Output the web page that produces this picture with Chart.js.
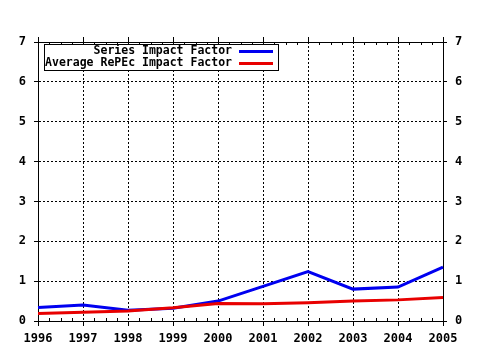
<!DOCTYPE html>
<html>
<head>
<meta charset="utf-8">
<script src="https://cdn.jsdelivr.net/npm/chart.js@4/dist/chart.umd.min.js"></script>
<style>
  html, body { margin: 0; padding: 0; background: #fff; }
  canvas { display: block; }
</style>
</head>
<body>
<canvas id="chart" width="480" height="350"></canvas>
<script>
// Years on the horizontal axis
const years = ['1996', '1997', '1998', '1999', '2000', '2001', '2002', '2003', '2004', '2005'];
// Impact factor of this series per year
const seriesImpact = [0.34, 0.40, 0.27, 0.32, 0.50, 0.87, 1.24, 0.80, 0.85, 1.35];
// Average impact factor over all RePEc series per year
const repecAverage = [0.19, 0.22, 0.25, 0.33, 0.44, 0.43, 0.46, 0.50, 0.53, 0.59];
// Value axis range and step
const yMin = 0;
const yMax = 7;
const yStep = 1;
// Legend entries
const seriesNames = ['Series Impact Factor', 'Average RePEc Impact Factor'];

const BLUE = '#0000f0';
const RED = '#e80000';
const MONO = '"DejaVu Sans Mono", "Liberation Mono", monospace';

// Minor ticks on the top and bottom frame, plus the boxed legend
const framePlugin = {
  id: 'framePlugin',
  afterDatasetsDraw(chart) {
    const { ctx, chartArea: a, scales: { x } } = chart;
    ctx.save();
    ctx.strokeStyle = '#000';
    ctx.lineWidth = 1;
    ctx.beginPath();
    for (let i = 0; i < years.length - 1; i++) {
      for (let k = 1; k < 4; k++) {
        const px = Math.round(x.getPixelForValue(i + k / 4)) + 0.5;
        ctx.moveTo(px, a.bottom);
        ctx.lineTo(px, a.bottom - 3);
        ctx.moveTo(px, a.top);
        ctx.lineTo(px, a.top + 3);
      }
    }
    ctx.stroke();

    // Legend box
    const bx = 44.5, by = 44.5, bw = 234, bh = 26;
    ctx.fillStyle = '#fff';
    ctx.fillRect(bx, by, bw, bh);
    ctx.strokeRect(bx, by, bw, bh);
    ctx.font = 'bold 11.5px ' + MONO;
    ctx.textAlign = 'right';
    ctx.textBaseline = 'middle';
    ctx.fillStyle = '#000';
    const colors = [BLUE, RED];
    const rows = [51.5, 63.5];
    chart.data.datasets.forEach((ds, i) => {
      ctx.fillText(ds.label, 232, rows[i]);
      ctx.strokeStyle = colors[i];
      ctx.lineWidth = 3;
      ctx.beginPath();
      ctx.moveTo(239, rows[i]);
      ctx.lineTo(273, rows[i]);
      ctx.stroke();
    });
    ctx.restore();
  }
};

const tickFont = { family: MONO, size: 12, weight: 'bold' };

new Chart(document.getElementById('chart'), {
  type: 'line',
  data: {
    labels: years,
    datasets: [
      {
        label: seriesNames[0],
        data: seriesImpact,
        borderColor: BLUE,
        borderWidth: 3,
        pointRadius: 0,
        tension: 0,
        order: 1
      },
      {
        label: seriesNames[1],
        data: repecAverage,
        borderColor: RED,
        borderWidth: 3,
        pointRadius: 0,
        tension: 0,
        order: 0
      }
    ]
  },
  options: {
    responsive: false,
    animation: false,
    devicePixelRatio: 1,
    layout: { padding: { top: 42, left: 0, right: 0, bottom: 0 } },
    plugins: {
      legend: { display: false },
      tooltip: { enabled: false }
    },
    scales: {
      x: {
        type: 'category',
        position: 'bottom',
        offset: false,
        grid: { color: '#000', lineWidth: 1, tickLength: 5, tickColor: '#000' },
        border: { color: '#000', width: 1, dash: [2, 2] },
        ticks: { color: '#000', font: tickFont, padding: 6, maxRotation: 0, autoSkip: false },
        afterFit(s) { s.height = 29; }
      },
      xTop: {
        type: 'category',
        position: 'top',
        offset: false,
        labels: years,
        grid: { drawOnChartArea: false, tickLength: 5, tickColor: '#000' },
        border: { color: '#000', width: 1 },
        ticks: { display: false },
        afterFit(s) { s.height = 0; }
      },
      y: {
        type: 'linear',
        position: 'left',
        min: yMin,
        max: yMax,
        grid: { color: '#000', lineWidth: 1, tickLength: 4, tickColor: '#000' },
        border: { color: '#000', width: 1, dash: [2, 2] },
        ticks: { stepSize: yStep, color: '#000', font: tickFont, padding: 8 },
        afterFit(s) { s.width = 38; }
      },
      yRight: {
        type: 'linear',
        position: 'right',
        min: yMin,
        max: yMax,
        grid: { drawOnChartArea: false, tickLength: 4, tickColor: '#000' },
        border: { color: '#000', width: 1 },
        ticks: { stepSize: yStep, color: '#000', font: tickFont, padding: 8 },
        afterFit(s) { s.width = 37; }
      }
    }
  },
  plugins: [framePlugin]
});
</script>
</body>
</html>
